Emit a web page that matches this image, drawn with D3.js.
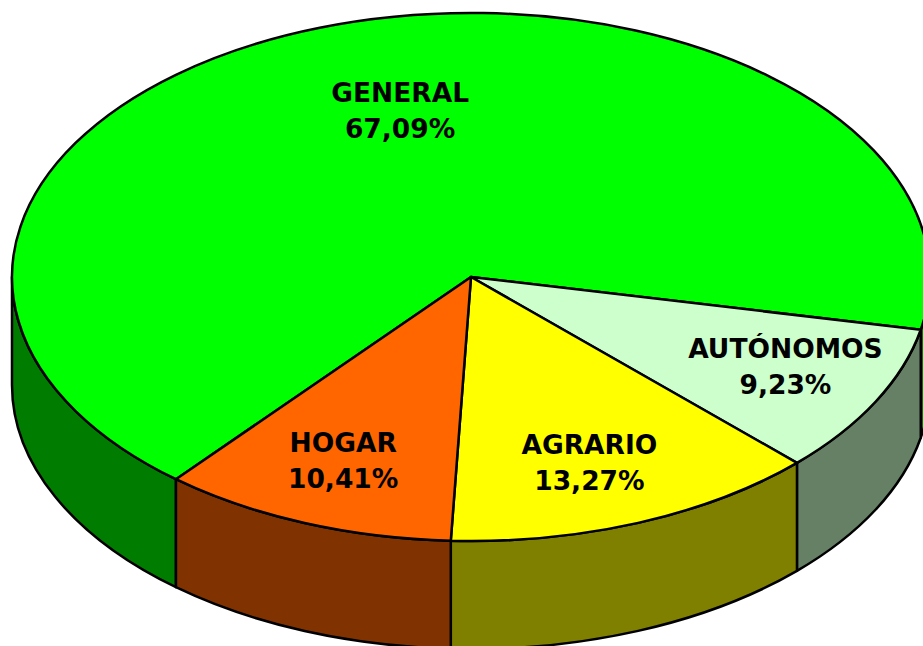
<!DOCTYPE html>
<html>
<head>
<meta charset="utf-8">
<script src="https://cdn.jsdelivr.net/npm/d3@7"></script>
<style>
  body { margin: 0; background: #fff; }
  svg { display: block; }
</style>
</head>
<body>
<svg></svg>
<script>
// slice data, in drawing order (clockwise)
const categories = ["GENERAL", "AUTÓNOMOS", "AGRARIO", "HOGAR"];
const values = [67.09, 9.23, 13.27, 10.41];
const topColors = ["#00ff00", "#ccffcc", "#ffff00", "#ff6600"];
const sideColors = ["#007c00", "#668066", "#808000", "#803300"];

const w = 923;
const h = 646;
const cx = 471, cy = 277;
const rx = 459, ry = 264;
const depth = 108;
const k = ry / rx;

const svg = d3.select("svg").attr("width", w).attr("height", h);

const fmt = v => d3.format(".2f")(v).replace(".", ",") + "%";

const pie = d3.pie().sort(null).value(d => d.value)
  .startAngle(220 * Math.PI / 180).endAngle(220 * Math.PI / 180 + 2 * Math.PI);

const slices = pie(categories.map((c, i) => ({ name: c, value: values[i], top: topColors[i], side: sideColors[i] })));

// everything drawn in circle space, squashed vertically
const g = svg.append("g").attr("transform", "translate(" + cx + "," + cy + ") scale(1," + k + ")");

// sides: only the front half (screen angle 0..PI) is visible
const d = depth / k;
const sidePath = (s1, s2) => {
  const p = d3.path();
  p.moveTo(rx * Math.cos(s1), rx * Math.sin(s1));
  p.arc(0, 0, rx, s1, s2);
  p.lineTo(rx * Math.cos(s2), rx * Math.sin(s2) + d);
  p.arc(0, d, rx, s2, s1, true);
  p.closePath();
  return p.toString();
};

const sides = [];
slices.forEach(s => {
  const a = s.startAngle - Math.PI / 2, b = s.endAngle - Math.PI / 2;
  [[0, Math.PI], [2 * Math.PI, 3 * Math.PI]].forEach(([lo, hi]) => {
    const s1 = Math.max(a, lo), s2 = Math.min(b, hi);
    if (s2 > s1) sides.push({ path: sidePath(s1, s2), color: s.data.side });
  });
});

g.selectAll("path.side").data(sides).enter().append("path")
  .attr("class", "side")
  .attr("d", s => s.path)
  .attr("fill", s => s.color)
  .attr("stroke", "#000")
  .attr("stroke-width", 2.5)
  .attr("stroke-linejoin", "round")
  .attr("vector-effect", "non-scaling-stroke");

const arc = d3.arc().innerRadius(0).outerRadius(rx);

g.selectAll("path.top").data(slices).enter().append("path")
  .attr("class", "top")
  .attr("d", arc)
  .attr("fill", s => s.data.top)
  .attr("stroke", "#000")
  .attr("stroke-width", 2.5)
  .attr("stroke-linejoin", "round")
  .attr("vector-effect", "non-scaling-stroke");

// labels near the centroid, with a little nudge like the original
const nudge = { "GENERAL": [38, 12], "AUTÓNOMOS": [23, -1], "AGRARIO": [-2, 8], "HOGAR": [-8, 6] };
const f = 0.72;

const labels = svg.selectAll("text.lbl").data(slices).enter().append("text")
  .attr("class", "lbl")
  .attr("text-anchor", "middle")
  .attr("font-family", "'DejaVu Sans', sans-serif")
  .attr("font-weight", "bold")
  .attr("font-size", 26.5)
  .attr("fill", "#000")
  .attr("transform", s => {
    const m = (s.startAngle + s.endAngle) / 2 - Math.PI / 2;
    const n = nudge[s.data.name];
    const x = cx + rx * f * Math.cos(m) + n[0];
    const y = cy + ry * f * Math.sin(m) + n[1];
    return "translate(" + x + "," + (y - 8) + ")";
  });

labels.append("tspan").attr("x", 0).attr("y", 0).text(s => s.data.name);
labels.append("tspan").attr("x", 0).attr("y", 36).text(s => fmt(s.data.value));
</script>
</body>
</html>
